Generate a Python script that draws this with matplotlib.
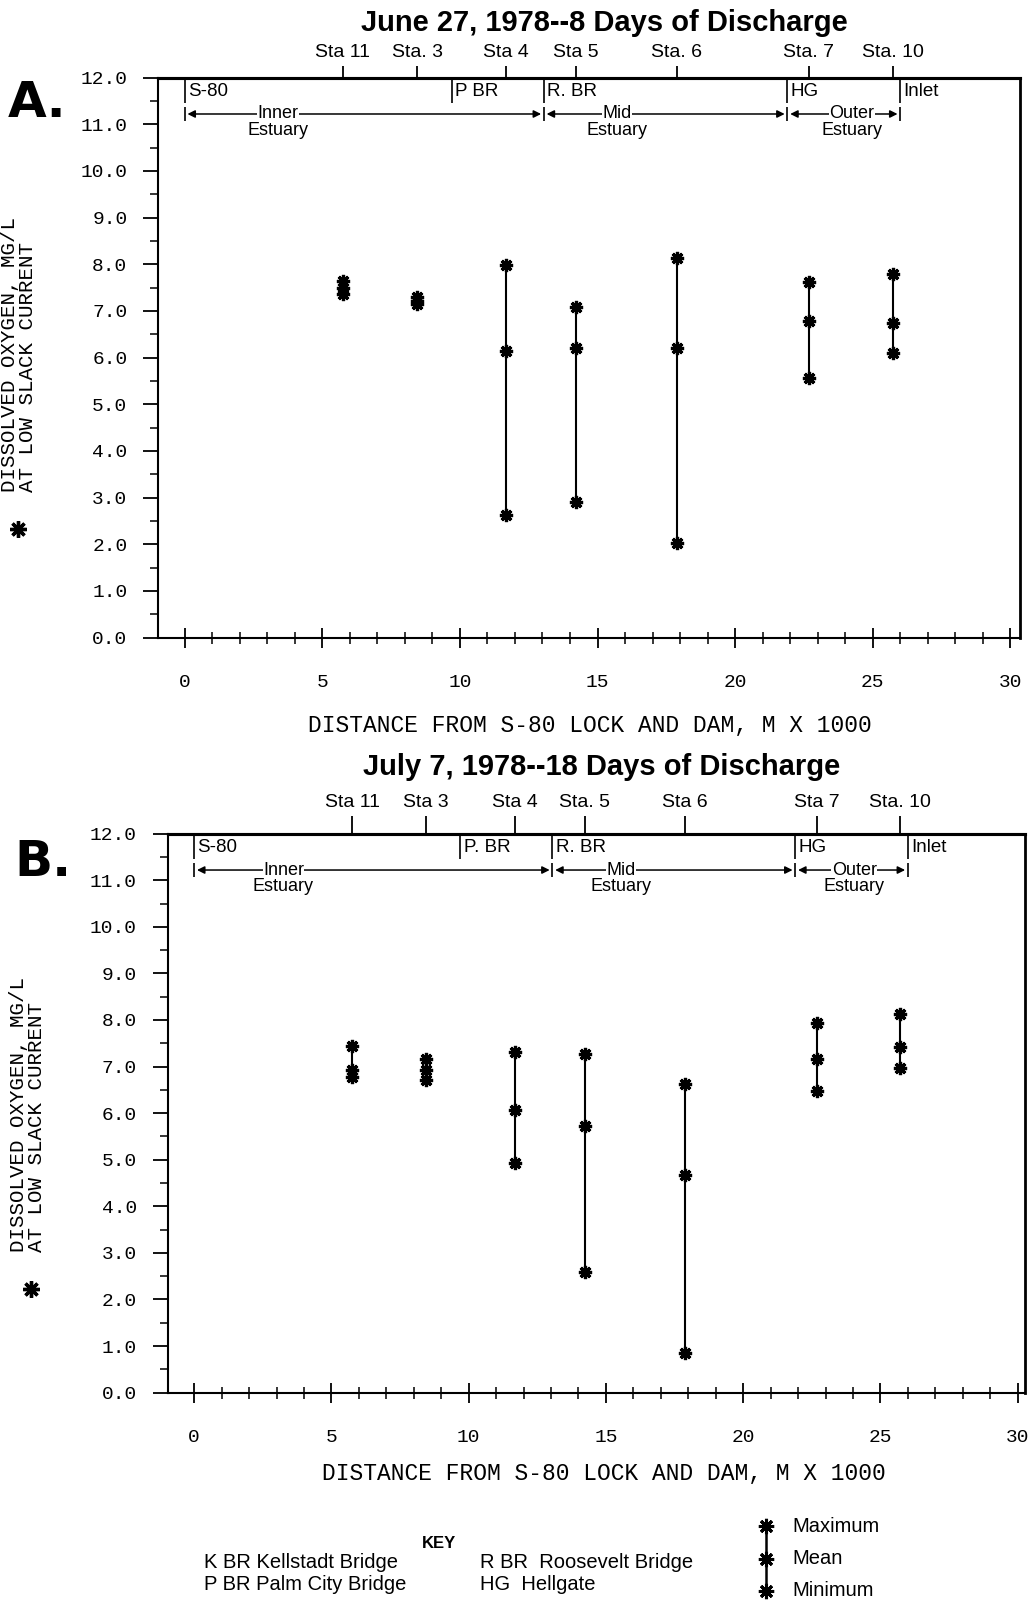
import matplotlib
matplotlib.use('Agg')
import matplotlib.pyplot as plt
from matplotlib import font_manager

# ---------------- data ----------------
sta_x = [5.75, 8.45, 11.68, 14.22, 17.88, 22.68, 25.72]
sta_labels_a = ["Sta 11", "Sta. 3", "Sta 4", "Sta 5", "Sta. 6", "Sta. 7", "Sta. 10"]
sta_labels_b = ["Sta 11", "Sta 3", "Sta 4", "Sta. 5", "Sta 6", "Sta 7", "Sta. 10"]

a_max = [7.65, 7.30, 7.98, 7.08, 8.14, 7.61, 7.78]
a_mean = [7.50, 7.22, 6.13, 6.20, 6.20, 6.79, 6.75]
a_min = [7.36, 7.15, 2.63, 2.91, 2.02, 5.57, 6.10]

b_max = [7.44, 7.16, 7.32, 7.27, 6.62, 7.93, 8.13]
b_mean = [6.93, 6.93, 6.07, 5.73, 4.67, 7.16, 7.41]
b_min = [6.78, 6.71, 4.92, 2.60, 0.85, 6.47, 6.98]

landmark_labels_a = ["S-80", "P BR", "R. BR", "HG", "Inlet"]
landmark_labels_b = ["S-80", "P. BR", "R. BR", "HG", "Inlet"]
landmark_x = [0.0, 9.7, 13.05, 21.9, 26.0]

zone_labels = ["Inner", "Mid", "Outer"]
zone_bounds = [0.0, 13.05, 21.9, 26.0]
zone_text_x_a = [3.4, 15.7, 24.25]
zone_text_x_b = [3.25, 15.55, 24.05]

x_ticks = [0, 5, 10, 15, 20, 25, 30]
y_ticks = list(range(0, 13))

title_a = "June 27, 1978--8 Days of Discharge"
title_b = "July 7, 1978--18 Days of Discharge"
xlabel = "DISTANCE FROM S-80 LOCK AND DAM, M X 1000"
ylabel1 = "DISSOLVED OXYGEN, MG/L"
ylabel2 = "AT LOW SLACK CURRENT"

key_left = ["K BR Kellstadt Bridge", "P BR Palm City Bridge"]
key_right = ["R BR  Roosevelt Bridge", "HG  Hellgate"]
key_sym = ["Maximum", "Mean", "Minimum"]

# ---------------- fonts ----------------
_names = {f.name for f in font_manager.fontManager.ttflist}
SANS = 'Liberation Sans' if 'Liberation Sans' in _names else 'DejaVu Sans'
MONO = 'Liberation Mono' if 'Liberation Mono' in _names else 'DejaVu Sans Mono'
NF = dict(fontfamily=SANS)
FS = 14

W, H = 1035, 1602
fig = plt.figure(figsize=(W / 100, H / 100), dpi=100)
fig.patch.set_facecolor('white')

MK = dict(marker=(8, 2, 0), markersize=9.5, markeredgewidth=2.3, color='black',
          linestyle='none', zorder=5)


def px_axes(left, top, right, bottom):
    return [left / W, 1 - bottom / H, (right - left) / W, (bottom - top) / H]


def panel(rect, xlim, vmax, vmean, vmin, sta_labels, lm_labels, zone_tx, top_tick_len):
    ax = fig.add_axes(rect)
    ax.set_xlim(*xlim)
    ax.set_ylim(0, 12)
    for s in ax.spines.values():
        s.set_linewidth(1.5)
    ax.spines['top'].set_linewidth(2.2)
    ax.spines['right'].set_linewidth(2.0)

    ax.set_xticks(x_ticks, labels=[str(t) for t in x_ticks],
                  fontfamily=MONO, fontsize=14)
    ax.set_xticks(range(0, 31), minor=True)
    ax.set_yticks(y_ticks, labels=[f"{v:.1f}" for v in y_ticks],
                  fontfamily=MONO, fontsize=14)
    ax.set_yticks([v + 0.5 for v in y_ticks[:-1]], minor=True)
    ax.tick_params(axis='x', which='major', direction='inout', length=14, width=1.3, pad=19)
    ax.tick_params(axis='x', which='minor', direction='inout', length=8, width=1.1)
    ax.tick_params(axis='y', which='major', direction='out', length=11, width=1.3, pad=11)
    ax.tick_params(axis='y', which='minor', direction='out', length=6, width=1.1)
    ax.tick_params(top=False, right=False, which='both')

    # station ticks on top
    sec = ax.secondary_xaxis('top')
    sec.set_xticks(sta_x, labels=sta_labels, fontsize=FS, **NF)
    sec.tick_params(direction='out', length=top_tick_len, width=1.3, pad=3)
    sec.spines['top'].set_linewidth(2.2)

    # data
    ax.vlines(sta_x, vmin, vmax, color='black', linewidth=1.5, zorder=4)
    ax.plot(sta_x, vmax, **MK)
    ax.plot(sta_x, vmean, **MK)
    ax.plot(sta_x, vmin, **MK)

    # landmark labels
    ax.vlines(landmark_x, 11.45, 11.97, color='black', linewidth=1.2)
    for x, lab in zip(landmark_x, lm_labels):
        ax.text(x + 0.12, 11.7, lab, fontsize=13.5, ha='left', va='center', **NF)
    # zones
    ax.vlines(zone_bounds, 11.06, 11.38, color='black', linewidth=1.2)
    for i, lab in enumerate(zone_labels):
        a, b = zone_bounds[i], zone_bounds[i + 1]
        ax.annotate('', xy=(b - 0.1, 11.22), xytext=(a + 0.1, 11.22),
                    arrowprops=dict(arrowstyle='<|-|>', lw=1.1, color='black',
                                    mutation_scale=11, shrinkA=0, shrinkB=0))
        ax.text(zone_tx[i], 11.22, lab, fontsize=13, ha='center', va='center',
                bbox=dict(facecolor='white', edgecolor='none', pad=0.3), **NF)
        ax.text(zone_tx[i], 10.87, "Estuary", fontsize=13, ha='center', va='center', **NF)
    return ax


ax_a = panel(px_axes(158, 77.6, 1020, 637.5), (-0.97, 30.35), a_max, a_mean, a_min,
             sta_labels_a, landmark_labels_a, zone_text_x_a, 9)
ax_b = panel(px_axes(167.6, 833.7, 1024.8, 1392.6), (-0.97, 30.26), b_max, b_mean, b_min,
             sta_labels_b, landmark_labels_b, zone_text_x_b, 13)

# ---------------- overlay in pixel coordinates ----------------
ov = fig.add_axes([0, 0, 1, 1])
ov.set_xlim(0, W)
ov.set_ylim(H, 0)
ov.axis('off')

ov.text(604, 23, title_a, fontweight='bold', fontsize=21, ha='center', va='center', **NF)
ov.text(602, 767, title_b, fontweight='bold', fontsize=21, ha='center', va='center', **NF)

ov.text(8, 117, "A.", fontfamily='DejaVu Sans', fontweight='bold', fontsize=36,
        ha='left', va='baseline')
ov.text(14, 876, "B.", fontfamily='DejaVu Sans', fontweight='bold', fontsize=36,
        ha='left', va='baseline')

ov.text(590, 725, xlabel, fontfamily=MONO, fontsize=16.5, ha='center', va='center')
ov.text(604, 1474, xlabel, fontfamily=MONO, fontsize=16.5, ha='center', va='center')

for (x1, x2, yb, ya, xs) in [(10, 28, 492, 529, 18), (19, 37, 1252, 1289, 31)]:
    ov.text(x1, yb, ylabel1, fontfamily=MONO, fontsize=15, rotation=90,
            ha='center', va='bottom')
    ov.text(x2, yb, ylabel2, fontfamily=MONO, fontsize=15, rotation=90,
            ha='center', va='bottom')
    ov.plot([xs], [ya], marker=(8, 2, 0), markersize=12,
            markeredgewidth=2.4, color='black', linestyle='none')

# key
ov.text(439, 1543, "KEY", fontweight='bold', fontsize=12, ha='center', va='center', **NF)
for i, t in enumerate(key_left):
    ov.text(204, 1563 + 21 * i, t, fontsize=14.5, ha='left', va='center', **NF)
for i, t in enumerate(key_right):
    ov.text(480, 1563 + 21 * i, t, fontsize=14.5, ha='left', va='center', **NF)
sym_y = [1526, 1559, 1591]
ov.plot([766, 766], [sym_y[0], sym_y[-1]], color='black', linewidth=1.8)
ov.plot([766] * 3, sym_y, marker=(8, 2, 0), markersize=11, markeredgewidth=2.2,
        color='black', linestyle='none')
for y, t in zip(sym_y, key_sym):
    ov.text(792, y, t, fontsize=14.5, ha='left', va='center', **NF)

fig.savefig('out.png', dpi=100, facecolor='white')
